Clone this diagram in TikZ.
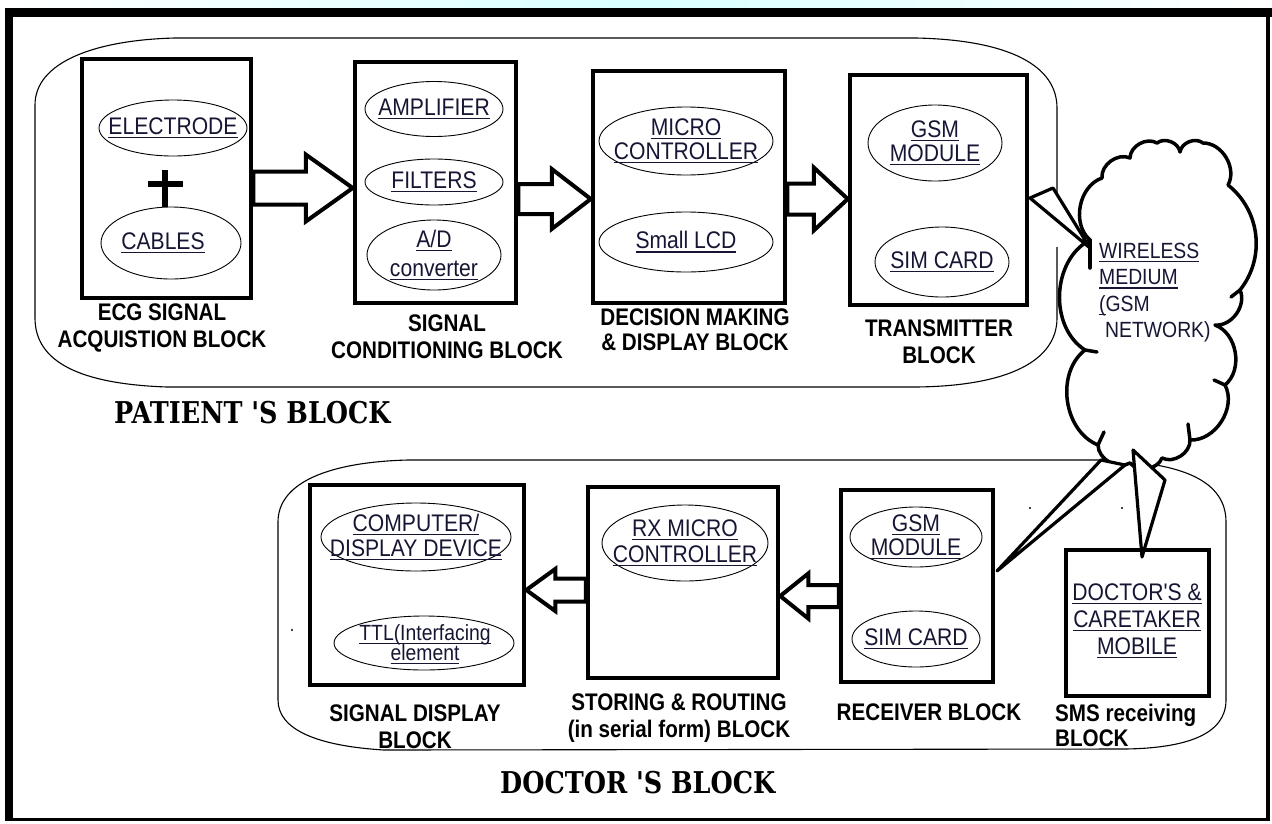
\documentclass[tikz,border=0pt]{standalone}
\usepackage{fontspec}
\usetikzlibrary{shapes.geometric,calc}
\newfontfamily\sfn[FakeStretch=0.88]{Liberation Sans}
\newfontfamily\sfb[FakeStretch=0.86]{Liberation Sans Bold}
\newfontfamily\ttlf[FakeStretch=0.85]{DejaVu Serif}
\definecolor{ink}{RGB}{22,22,52}
\newcommand\ulin[1]{\setbox0\hbox{#1}\dp0=0pt\vtop{\copy0\kern2.5pt\hrule height 1.3pt}}
\newcommand\arrR[6]{\draw[blockarr] let \p1=(#1.east),\p2=(#2.west) in
 (\x1,-#3pt+#4pt) -- (\x2-#6pt,-#3pt+#4pt) -- (\x2-#6pt,-#3pt+#5pt) -- (\x2,-#3pt)
 -- (\x2-#6pt,-#3pt-#5pt) -- (\x2-#6pt,-#3pt-#4pt) -- (\x1,-#3pt-#4pt) -- cycle;}
\newcommand\arrL[6]{\draw[blockarr] let \p1=(#1.west),\p2=(#2.east) in
 (\x1,-#3pt+#4pt) -- (\x2+#6pt,-#3pt+#4pt) -- (\x2+#6pt,-#3pt+#5pt) -- (\x2,-#3pt)
 -- (\x2+#6pt,-#3pt-#5pt) -- (\x2+#6pt,-#3pt-#4pt) -- (\x1,-#3pt-#4pt) -- cycle;}
\tikzset{
 box/.style={draw,line width=4.5pt,inner sep=0pt},
 ell/.style={ellipse,draw,line width=0.9pt,inner sep=0pt},
 etext/.style={font=\sfn\fontsize{24}{24}\selectfont,text=ink,align=center,inner sep=0pt},
 lbl/.style={font=\sfb\fontsize{24}{27}\selectfont,align=center,inner sep=0pt},
 outline/.style={line width=1.1pt},
 blockarr/.style={line width=4pt,fill=white,line join=miter},
 cloudline/.style={line width=3.5pt,line join=round,line cap=round},
 wedge/.style={draw,line width=3.2pt,fill=white,line join=round},
 title/.style={font=\ttlf\bfseries\fontsize{30}{32}\selectfont,inner sep=0pt,anchor=west},
}
\begin{document}
\begin{tikzpicture}[x=1pt,y=-1pt]
\useasboundingbox (0,0) rectangle (1272,823);
\fill[white] (0,0) rectangle (1272,823);
\shade[left color=white,right color=white,middle color=cyan!15] (0,0) rectangle (1272,8);
% frame
\fill (5,8) rectangle (1272,17);
\fill (5,8) rectangle (13,821);
\fill (1266,8) rectangle (1270,821);
\fill (5,818) rectangle (1270,821);

% patient outline (open at the cloud pointer)
\draw[outline] (1057,247) -- (1057,318) .. controls (1057,360) and (1010,386) .. (916,387)
 -- (167,387) .. controls (80,384) and (35,362) .. (35,318) -- (35,105)
 .. controls (35,62) and (95,40) .. (175,38) -- (916,38)
 .. controls (1010,40) and (1057,66) .. (1057,108) -- (1057,197);
% doctor outline
\draw[outline] (408,460) -- (1100,460) .. controls (1185,462) and (1226,482) .. (1226,522)
 -- (1226,700) .. controls (1226,735) and (1185,748) .. (1126,749) -- (384,750)
 .. controls (318,746) and (278,730) .. (278,700) -- (278,522)
 .. controls (278,482) and (330,462) .. (408,460) -- cycle;

% patient boxes
\node[box,minimum width=169pt,minimum height=239pt] (ecg) at (166.5,178.5) {};
\node[box,minimum width=161pt,minimum height=241pt] (sc) at (435.5,182.5) {};
\node[box,minimum width=192pt,minimum height=232pt] (dm) at (689,187) {};
\node[box,minimum width=177pt,minimum height=230pt] (tx) at (938.5,190) {};

\node[ell,minimum width=148pt,minimum height=56pt] (electrode) at (173,128) {};
\node[etext] (electrode-t) at (electrode) {\ulin{ELECTRODE}};
\node[ell,minimum width=140pt,minimum height=72pt] (cables) at (171,243) {};
\node[etext] (cables-t) at (163,243) {\ulin{CABLES}};
\draw[line width=5.5pt] (148,184) -- (183,184);
\draw[line width=5.5pt] (165,170) -- (165,207);

\node[ell,minimum width=138pt,minimum height=55pt] (amp) at (434,109) {};
\node[etext] (amp-t) at (amp) {\ulin{AMPLIFIER}};
\node[ell,minimum width=138pt,minimum height=46pt] (filt) at (434,182) {};
\node[etext] (filt-t) at (filt) {\ulin{FILTERS}};
\node[ell,minimum width=134pt,minimum height=70pt] (adc) at (434,255) {};
\node[etext,font=\sfn\fontsize{24}{29}\selectfont] (adc-t) at (adc) {\ulin{A/D}\\\ulin{converter}};

\node[ell,minimum width=174pt,minimum height=68pt] (mc) at (686,141) {};
\node[etext] (mc-t) at (mc) {\ulin{MICRO}\\\ulin{CONTROLLER}};
\node[ell,minimum width=174pt,minimum height=60pt] (lcd) at (686,242) {};
\node[etext] (lcd-t) at (lcd) {\ulin{Small LCD}};

\node[ell,minimum width=134pt,minimum height=76pt] (gsm1) at (935,143) {};
\node[etext] (gsm1-t) at (gsm1) {\ulin{GSM}\\\ulin{MODULE}};
\node[ell,minimum width=134pt,minimum height=70pt] (sim1) at (942,262) {};
\node[etext] (sim1-t) at (sim1) {\ulin{SIM CARD}};

\node[lbl] (ecg-l) at (162,327.5) {ECG SIGNAL\\ACQUISTION BLOCK};
\node[lbl] (sc-l) at (447,336.5) {SIGNAL\\CONDITIONING BLOCK};
\node[lbl,font=\sfb\fontsize{24}{25}\selectfont] (dm-l) at (695,330) {DECISION MAKING\\\& DISPLAY BLOCK};
\node[lbl] (tx-l) at (939,341.5) {TRANSMITTER\\BLOCK};

\arrR{ecg}{sc}{188}{16.5}{33.5}{47}
\arrR{sc}{dm}{199}{15}{30}{39}
\arrR{dm}{tx}{199}{15.5}{31.5}{34}

% doctor boxes
\node[box,minimum width=214pt,minimum height=200pt] (sd) at (417,585) {};
\node[box,minimum width=190pt,minimum height=191pt] (sr) at (683,582.5) {};
\node[box,minimum width=152pt,minimum height=192pt] (rx) at (917,586) {};
\node[box,minimum width=143pt,minimum height=146pt] (mob) at (1137.5,623) {};

\node[ell,minimum width=190pt,minimum height=68pt] (comp) at (416,537) {};
\node[etext,font=\sfn\fontsize{24}{25}\selectfont] (comp-t) at (comp) {\ulin{COMPUTER/}\\\ulin{DISPLAY DEVICE}};
\node[ell,minimum width=180pt,minimum height=54pt] (ttl) at (424,643) {};
\node[etext,font=\sfn\fontsize{22}{20}\selectfont] (ttl-t) at (425,644) {\ulin{TTL(Interfacing}\\\ulin{element}};
\node[ell,minimum width=166pt,minimum height=76pt] (rxmc) at (685,543) {};
\node[etext,font=\sfn\fontsize{24}{26}\selectfont] (rxmc-t) at (rxmc) {\ulin{RX MICRO}\\\ulin{CONTROLLER}};
\node[ell,minimum width=132pt,minimum height=60pt] (gsm2) at (916,537) {};
\node[etext] (gsm2-t) at (gsm2) {\ulin{GSM}\\\ulin{MODULE}};
\node[ell,minimum width=128pt,minimum height=56pt] (sim2) at (916,639) {};
\node[etext] (sim2-t) at (sim2) {\ulin{SIM CARD}};
\node[etext,font=\sfn\fontsize{24}{27}\selectfont] (mob-t) at (1137,621) {\ulin{DOCTOR'S \&}\\\ulin{CARETAKER}\\\ulin{MOBILE}};

\node[lbl] (sd-l) at (415,726.5) {SIGNAL DISPLAY\\BLOCK};
\node[lbl] (sr-l) at (679,718.5) {STORING \& ROUTING\\(in serial form) BLOCK};
\node[lbl] (rx-l) at (929,712) {RECEIVER BLOCK};
\node[lbl,font=\sfb\fontsize{24}{25}\selectfont,align=left,anchor=west] (sms-l) at (1055,725.5) {SMS receiving\\BLOCK};

\arrL{sr}{sd}{590}{11.5}{21}{29}
\arrL{rx}{sr}{596}{11}{22.5}{28}

% cloud
\draw[cloudline,fill=white] (1090,240) to[bend left=60] (1102,178) to[bend left=60] (1130,158)
 to[bend left=60] (1157,143) to[bend left=60] (1180,152) to[bend left=60] (1203,143)
 to[bend left=60] (1228,185) to[bend left=45] (1240,290) to[bend left=60] (1215,325)
 to[bend left=60] (1225,385) to[bend left=60] (1190,440) to[bend left=60] (1162,458)
 to[bend left=60] (1130,463) to[bend left=60] (1098,445) to[bend left=60] (1085,350)
 to[bend left=60] (1090,240);
\draw[cloudline] (1090,240) -- (1090,268);
\draw[cloudline] (1085,350) -- (1097,352);
\draw[cloudline] (1240,290) -- (1231,297);
\draw[cloudline] (1190,440) -- (1188,424);
\draw[cloudline] (1098,445) -- (1104,432);
\draw[cloudline] (1225,385) -- (1214,380);
\node[etext,font=\sfn\fontsize{22}{26.3}\selectfont,align=left,anchor=west] (wm-t) at (1099,292.5)
 {\ulin{WIRELESS}\\\ulin{MEDIUM}\\\ulin{(}GSM\\\hspace*{6pt}NETWORK)};

% pointers from cloud
\coordinate (w1a) at (1030,198); \coordinate (w1b) at (1053,188); \coordinate (w1c) at (1090,248);
\draw[wedge] (w1a) -- (w1b) -- (w1c) -- cycle;
\coordinate (w2a) at (1101,460); \coordinate (w2b) at (1125,465); \coordinate (w2c) at (997,571);
\draw[wedge] (w2a) -- (w2b) -- (w2c) -- cycle;
\coordinate (w3a) at (1133,450); \coordinate (w3b) at (1165,480); \coordinate (w3c) at (1142,557);
\draw[wedge] (w3a) -- (w3b) -- (w3c) -- cycle;

% specks
\fill (292,630) circle (1.2);
\fill (1030,508) circle (1.2);
\fill (1122,508) circle (1.2);

% titles
\node[title] (pt) at (114,413) {PATIENT 'S BLOCK};
\node[title] (dt) at (500,783) {DOCTOR 'S BLOCK};
\end{tikzpicture}
\end{document}
